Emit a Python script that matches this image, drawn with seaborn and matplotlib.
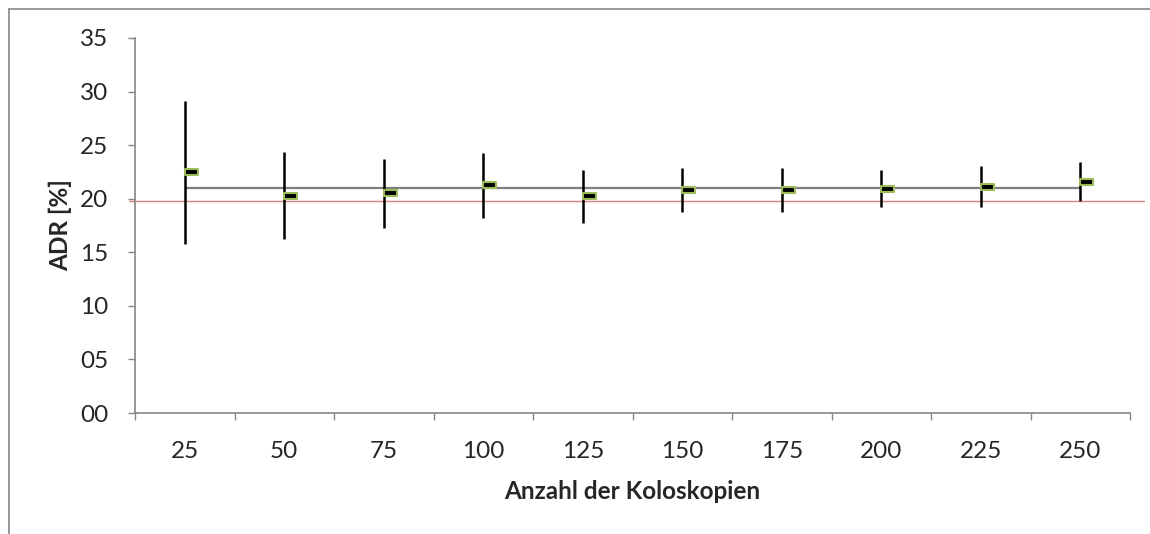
import numpy as np
import pandas as pd
import seaborn as sns
import matplotlib.pyplot as plt
from matplotlib.path import Path
from matplotlib.markers import MarkerStyle
from matplotlib.lines import Line2D

# ADR per number of colonoscopies: high / low / close
n_kolo = ['25', '50', '75', '100', '125', '150', '175', '200', '225', '250']
adr_high = [29.1, 24.4, 23.7, 24.3, 22.7, 22.9, 22.9, 22.7, 23.05, 23.4]
adr_low = [15.8, 16.2, 17.3, 18.2, 17.7, 18.8, 18.8, 19.2, 19.25, 19.8]
adr_close = [22.5, 20.3, 20.5, 21.3, 20.25, 20.8, 20.8, 20.9, 21.1, 21.6]
adr_mean = 21.0
adr_ref = 19.8

df = pd.DataFrame({'n': n_kolo, 'high': adr_high, 'low': adr_low, 'close': adr_close})
df['pos'] = np.arange(len(df))

sns.set_style('white')
plt.rcParams['font.family'] = ['Lato', 'DejaVu Sans']

fig = plt.figure(figsize=(11.5, 5.34), dpi=100)
ax = fig.add_axes([135 / 1150, 1 - 413 / 534, 995 / 1150, 375 / 534])

grey = '#868686'

# outer chart frame (only top and left are visible)
fig.add_artist(Line2D([9 / 1150, 9 / 1150], [-0.1, 1 - 9 / 534], transform=fig.transFigure, color=grey, lw=1.2))
fig.add_artist(Line2D([9 / 1150, 1.1], [1 - 9 / 534, 1 - 9 / 534], transform=fig.transFigure, color=grey, lw=1.2))

# reference line
ax.axhline(adr_ref, xmin=-0.006, xmax=1.014, color='#E08080', lw=1.0, clip_on=False, zorder=1)
# mean line from first to last group
ax.hlines(adr_mean, df['pos'].iloc[0], df['pos'].iloc[-1], color='#7f7f7f', lw=1.6, zorder=2)

# high-low bars
ax.vlines(df['pos'], df['low'], df['high'], color='black', lw=1.8, zorder=3)

# close marker: small box to the right of the bar
box = Path([(0, -0.2), (1, -0.2), (1, 0.2), (0, 0.2), (0, -0.2)],
           [Path.MOVETO, Path.LINETO, Path.LINETO, Path.LINETO, Path.CLOSEPOLY])
sns.scatterplot(data=df, x='pos', y='close', marker=MarkerStyle(box), s=19 ** 2,
                color='black', edgecolor='#9BBB59', linewidth=1.5, zorder=4, ax=ax, legend=False)

ax.set_xlim(-0.5, len(df) - 0.5)
ax.set_ylim(0, 35)
ax.set_yticks(np.arange(0, 36, 5))
ax.set_yticklabels([f'{v:02d}' for v in range(0, 36, 5)])
ax.set_xticks(df['pos'])
ax.set_xticklabels(df['n'])
ax.set_xticks(np.arange(-0.5, len(df)), minor=True)

ax.tick_params(axis='x', which='major', length=0, pad=20, labelsize=17.5)
ax.tick_params(axis='x', which='minor', length=5, width=1, color=grey, direction='out', bottom=True)
ax.tick_params(axis='y', length=5, width=1, color=grey, direction='out', left=True, pad=14, labelsize=17.5)

for s in ['top', 'right']:
    ax.spines[s].set_visible(False)
for s in ['left', 'bottom']:
    ax.spines[s].set_color(grey)
    ax.spines[s].set_linewidth(1.2)

ax.set_xlabel('Anzahl der Koloskopien', fontsize=17.5, fontweight='bold', labelpad=13)
ax.set_ylabel('ADR [%]', fontsize=17.5, fontweight='bold', labelpad=6)

fig.savefig('out.png', dpi=100)
